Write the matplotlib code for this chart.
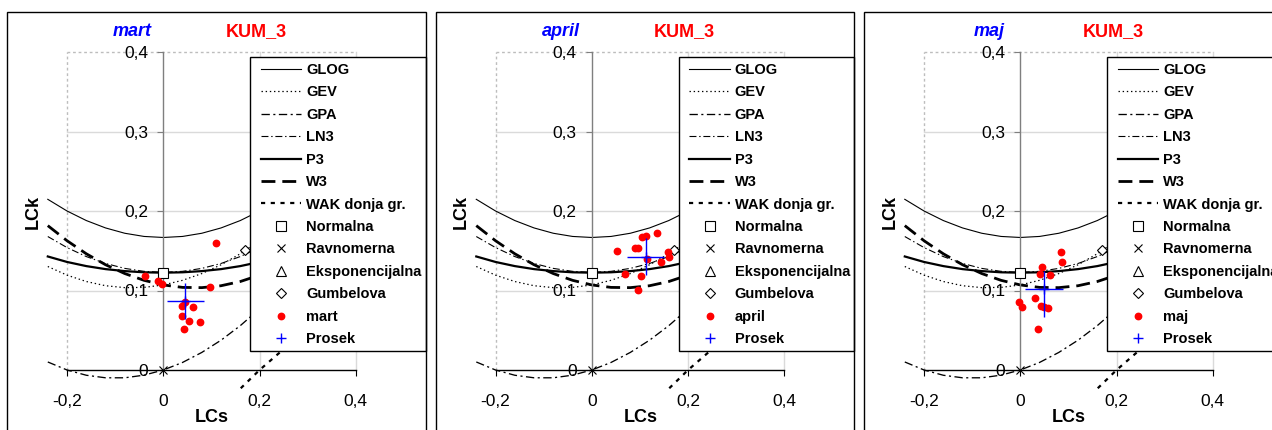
import matplotlib
matplotlib.use('Agg')
import matplotlib.pyplot as plt
from matplotlib.patches import Rectangle

plt.rcParams['font.family'] = ['Liberation Sans', 'DejaVu Sans']
plt.rcParams['lines.scale_dashes'] = False

# ---------------- data ----------------
station = 'KUM_3'
months = ['mart', 'april', 'maj']

# theoretical L-moment ratio curves (LCs -> LCk), read at LCs grid
tau3_grid = [-0.24, -0.20, -0.16, -0.12, -0.08, -0.04, 0.00, 0.04, 0.08,
             0.12, 0.16, 0.20, 0.24, 0.28, 0.32, 0.36, 0.40]
glog = [0.2147, 0.2000, 0.1880, 0.1787, 0.1720, 0.1680, 0.1667, 0.1680, 0.1720,
        0.1787, 0.1880, 0.2000, 0.2147, 0.2320, 0.2520, 0.2747, 0.3000]
gev = [0.1302, 0.1193, 0.1113, 0.1060, 0.1036, 0.1039, 0.1070, 0.1128, 0.1213,
       0.1324, 0.1462, 0.1626, 0.1816, 0.2031, 0.2271, 0.2537, 0.2827]
gpa = [0.0101, 0.0000, -0.0066, -0.0098, -0.0098, -0.0065, 0.0000, 0.0095, 0.0221,
       0.0375, 0.0558, 0.0769, 0.1008, 0.1273, 0.1564, 0.1881, 0.2222]
ln3 = [0.1679, 0.1540, 0.1427, 0.1340, 0.1278, 0.1241, 0.1228, 0.1241, 0.1278,
       0.1340, 0.1427, 0.1540, 0.1679, 0.1843, 0.2034, 0.2251, 0.2495]
p3 = [0.1428, 0.1359, 0.1307, 0.1269, 0.1244, 0.1229, 0.1224, 0.1229, 0.1244,
      0.1269, 0.1307, 0.1359, 0.1428, 0.1516, 0.1627, 0.1763, 0.1929]
w3 = [0.1816, 0.1626, 0.1462, 0.1324, 0.1213, 0.1128, 0.1070, 0.1039, 0.1036,
      0.1060, 0.1113, 0.1193, 0.1302, 0.1441, 0.1608, 0.1806, 0.2034]
wak_t3 = [0.12, 0.16, 0.20, 0.24, 0.28, 0.32]
wak_t4 = [-0.050, -0.0235, 0.000, 0.021, 0.040, 0.057]

point_names = ['Normalna', 'Ravnomerna', 'Eksponencijalna', 'Gumbelova']
point_t3 = [0.0, 0.0, 0.3333, 0.1699]
point_t4 = [0.1226, 0.0, 0.1667, 0.1504]

mart_lcs = [-0.038, -0.012, -0.003, 0.109, 0.096, 0.046, 0.038, 0.061, 0.039, 0.054, 0.076, 0.044]
mart_lck = [0.118, 0.112, 0.108, 0.160, 0.105, 0.086, 0.080, 0.079, 0.068, 0.062, 0.060, 0.051]
april_lcs = [0.053, 0.090, 0.097, 0.104, 0.113, 0.136, 0.115, 0.144, 0.158, 0.161, 0.070, 0.102, 0.095]
april_lck = [0.150, 0.154, 0.153, 0.167, 0.168, 0.172, 0.140, 0.136, 0.148, 0.142, 0.121, 0.118, 0.101]
maj_lcs = [0.085, 0.087, 0.045, 0.040, 0.062, 0.031, -0.003, 0.003, 0.044, 0.049, 0.058, 0.037]
maj_lck = [0.148, 0.136, 0.130, 0.121, 0.120, 0.091, 0.085, 0.079, 0.080, 0.079, 0.078, 0.052]
month_lcs = [mart_lcs, april_lcs, maj_lcs]
month_lck = [mart_lck, april_lck, maj_lck]

prosek_lcs = [0.046, 0.112, 0.049]
prosek_lck = [0.087, 0.1425, 0.102]
prosek_xerr = [0.039, 0.038, 0.039]
prosek_yerr_lo = [0.023, 0.0235, 0.035]
prosek_yerr_hi = [0.023, 0.0235, 0.022]

xtick_vals = [-0.2, 0.0, 0.2, 0.4]
xtick_labels = ['-0,2', '0', '0,2', '0,4']
ytick_vals = [0.0, 0.1, 0.2, 0.3, 0.4]
ytick_labels = ['0', '0,1', '0,2', '0,3', '0,4']

# ---------------- layout (pixels) ----------------
W, H = 1272, 430
fig = plt.figure(figsize=(W / 100, H / 100), dpi=100)

def fx(px):
    return px / W

def fy(py):
    return 1 - py / H

SX, SY = 481.3, 795.0
PANEL_DX = 428.5
XMIN, XMAX = -0.25, 0.545
YMIN, YMAX = -0.025, 0.44

curve_specs = [
    ('GLOG', glog, dict(ls='-', lw=0.8)),
    ('GEV', gev, dict(ls=(0, (1.0, 2.0)), lw=0.9)),
    ('GPA', gpa, dict(ls=(0, (6, 2.5, 1.5, 2.5)), lw=0.95)),
    ('LN3', ln3, dict(ls=(0, (5, 2, 1, 2)), lw=0.8)),
    ('P3', p3, dict(ls='-', lw=1.6)),
    ('W3', w3, dict(ls=(0, (10, 5)), lw=2.0)),
]
point_styles = [
    dict(marker='s', ms=6.5, mfc='white', mec='black', mew=0.8),
    dict(marker='x', ms=6.0, mec='black', mew=0.8),
    dict(marker='^', ms=6.5, mfc='white', mec='black', mew=0.8),
    dict(marker='D', ms=5.5, mfc='white', mec='black', mew=0.8),
]

for i, month in enumerate(months):
    off = PANEL_DX * i
    x0 = 163.3 + off
    y0 = 370.0
    left_px = x0 + XMIN * SX
    right_px = x0 + XMAX * SX
    top_px = y0 - YMAX * SY
    bot_px = y0 - YMIN * SY
    ax = fig.add_axes([fx(left_px), fy(bot_px), fx(right_px - left_px), (bot_px - top_px) / H])
    ax.set_xlim(XMIN, XMAX)
    ax.set_ylim(YMIN, YMAX)
    ax.patch.set_alpha(0)

    # plot-area grid and dotted border
    for yv in [0.1, 0.2, 0.3]:
        ax.plot([-0.2, 0.4], [yv, yv], color='#dadada', lw=1.0, zorder=0.5)
    for xv in [0.2, 0.4]:
        ax.plot([xv, xv], [0, 0.4], color='#dadada', lw=1.0, zorder=0.5)
    ax.plot([-0.2, -0.2], [0, 0.4], color='#bdbdbd', lw=1.0, ls=(0, (2, 2)), zorder=0.6)
    ax.plot([-0.2, 0.4], [0.4, 0.4], color='#bdbdbd', lw=1.0, ls=(0, (2, 2)), zorder=0.6)

    handles = []
    for name, vals, st in curve_specs:
        h, = ax.plot(tau3_grid, vals, color='black', label=name, zorder=2, **st)
        handles.append(h)
    h, = ax.plot(wak_t3, wak_t4, color='black', ls=(0, (3, 4)), lw=1.6,
                 label='WAK donja gr.', zorder=2)
    handles.append(h)
    for nm, t3, t4, st in zip(point_names, point_t3, point_t4, point_styles):
        h, = ax.plot([t3], [t4], ls='none', label=nm, zorder=3, clip_on=False, **st)
        handles.append(h)
    h, = ax.plot(month_lcs[i], month_lck[i], 'o', color='red', ms=4.6, mec='red',
                 label=month, zorder=3)
    handles.append(h)
    ax.errorbar([prosek_lcs[i]], [prosek_lck[i]], xerr=[prosek_xerr[i]],
                yerr=[[prosek_yerr_lo[i]], [prosek_yerr_hi[i]]],
                fmt='none', ecolor='blue', elinewidth=1.0, capsize=0, zorder=4)
    h, = ax.plot([prosek_lcs[i]], [prosek_lck[i]], '+', color='blue', ms=7, mew=1.0,
                 label='Prosek', zorder=4)
    handles.append(h)

    # axes
    for s in ['top', 'right']:
        ax.spines[s].set_visible(False)
    ax.spines['left'].set_position(('data', 0))
    ax.spines['left'].set_bounds(0, 0.4)
    ax.spines['left'].set_color('#7f7f7f')
    ax.spines['left'].set_linewidth(1.0)
    ax.spines['bottom'].set_position(('data', 0))
    ax.spines['bottom'].set_bounds(-0.2, 0.4)
    ax.spines['bottom'].set_color('black')
    ax.spines['bottom'].set_linewidth(1.0)
    ax.set_xticks(xtick_vals)
    ax.set_xticklabels(xtick_labels)
    ax.set_yticks(ytick_vals)
    ax.set_yticklabels(ytick_labels)
    ax.tick_params(axis='x', direction='out', length=4.5, width=0.8, color='black',
                   labelsize=12.5, pad=12.5)
    ax.tick_params(axis='y', direction='out', length=4.5, width=0.8, color='#7f7f7f',
                   labelsize=12.5, pad=6.5)

    # legend box
    leg_left = 250.3 + off
    leg_top = 57.3
    leg_right = 425.7 + off
    leg_bot = 351.3
    rect = Rectangle((fx(leg_left), fy(leg_bot)), fx(leg_right - leg_left), (leg_bot - leg_top) / H,
                     transform=fig.transFigure, facecolor='white', edgecolor='black',
                     lw=1.0, zorder=5, clip_on=False)
    ax.add_patch(rect)
    leg = ax.legend(handles=handles, loc='upper left',
                    bbox_to_anchor=(fx(leg_left + 10.7), fy(leg_top + 5.5)),
                    bbox_transform=fig.transFigure, frameon=False, borderpad=0,
                    borderaxespad=0, handlelength=2.75, handletextpad=0.35,
                    labelspacing=0.58, numpoints=1,
                    prop=dict(weight='bold', size=10.5))
    leg.set_zorder(6)

    # texts
    fig.text(fx(132.5 + off), fy(32), month, color='blue', fontsize=13, fontweight='bold',
             fontstyle='italic', ha='center', va='center')
    fig.text(fx(256 + off), fy(32), station, color='red', fontsize=13, fontweight='bold',
             ha='center', va='center')
    fig.text(fx(212 + off), fy(418), 'LCs', color='black', fontsize=13, fontweight='bold',
             ha='center', va='center')
    fig.text(fx(33 + off), fy(212), 'LCk', color='black', fontsize=13, fontweight='bold',
             ha='center', va='center', rotation=90)

    # panel frame
    fig.patches.append(Rectangle((fx(7 + off), fy(445)), fx(418.7), (445 - 11.7) / H,
                                 transform=fig.transFigure, fill=False, edgecolor='black',
                                 lw=1.0, zorder=10))

fig.savefig('out.png', dpi=100)
